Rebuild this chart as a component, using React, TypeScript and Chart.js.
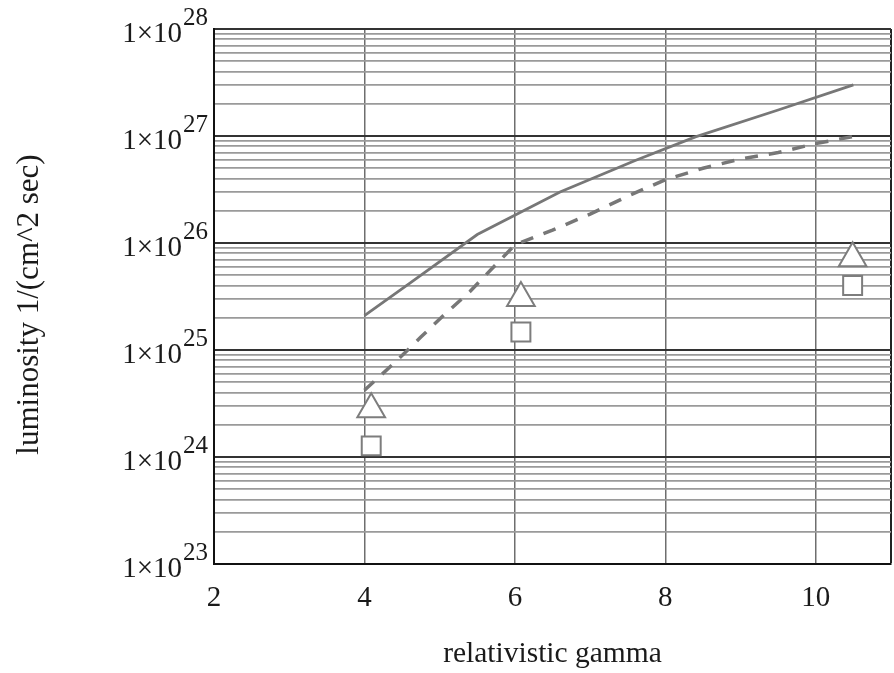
import React, { useEffect, useRef } from 'react';
import { Chart, registerables } from 'chart.js';

Chart.register(...registerables);

// Solid curve
const solidGamma = [4.0, 4.6, 5.5, 6.6, 7.6, 8.4, 9.5, 10.5];
const solidLum = [2.1e25, 4.2e25, 1.2e26, 3.0e26, 5.9e26, 9.8e26, 1.75e27, 3.0e27];

// Dashed curve
const dashedGamma = [4.0, 4.4, 4.75, 5.05, 5.4, 5.7, 6.0, 6.5, 7.0, 7.5, 8.0, 8.5, 9.0, 9.5, 10.0, 10.5];
const dashedLum = [4.2e24, 7.6e24, 1.32e25, 2.1e25, 3.5e25, 5.8e25, 9.6e25, 1.32e26, 1.86e26, 2.74e26, 3.9e26, 5.0e26, 6.1e26, 7.0e26, 8.5e26, 9.9e26];

// Markers
const triangleGamma = [4.09, 6.08, 10.49];
const triangleLum = [2.8e24, 3.06e25, 7.2e25];
const squareGamma = [4.09, 6.08, 10.49];
const squareLum = [1.27e24, 1.47e25, 4.0e25];

// Axes
const xMin = 2;
const xMax = 11;
const xStep = 2;
const yDecades = [23, 24, 25, 26, 27, 28];

const xTitle = 'relativistic gamma';
const yTitle = 'luminosity 1/(cm^2 sec)';

const FONT = '"Liberation Serif", "Times New Roman", serif';

const pts = (xs: number[], ys: number[]) => xs.map((x, i) => ({ x, y: ys[i] }));
const isDecade = (v: number) => Math.abs(Math.log10(v) - Math.round(Math.log10(v))) < 1e-6;

export default function App() {
  const ref = useRef<HTMLCanvasElement>(null);

  useEffect(() => {
    if (!ref.current) return;

    const yLabelPlugin = {
      id: 'yLabelPlugin',
      afterDraw(chart: any) {
        const ctx = chart.ctx;
        const ys = chart.scales.y;
        const right = ys.right - 6;
        ctx.save();
        ctx.fillStyle = '#1a1a1a';
        ctx.textAlign = 'right';
        ctx.textBaseline = 'alphabetic';
        yDecades.forEach((e) => {
          const py = ys.getPixelForValue(Number('1e' + e));
          const expStr = String(e);
          ctx.font = `25px ${FONT}`;
          const ew = ctx.measureText(expStr).width;
          ctx.fillText(expStr, right, py - 4);
          ctx.font = `29px ${FONT}`;
          ctx.fillText('1\u00d710', right - ew - 1, py + 13);
        });
        const cy = (chart.chartArea.top + chart.chartArea.bottom) / 2 + 8;
        ctx.translate(30, cy);
        ctx.rotate(-Math.PI / 2);
        ctx.font = `31px ${FONT}`;
        ctx.textAlign = 'center';
        ctx.textBaseline = 'middle';
        ctx.fillText(yTitle, 0, 0);
        ctx.restore();
      },
    };

    const chart = new Chart(ref.current, {
      type: 'line',
      data: {
        datasets: [
          {
            label: 'triangles',
            data: pts(triangleGamma, triangleLum),
            showLine: false,
            pointStyle: 'triangle',
            pointRadius: 16,
            pointBorderWidth: 2,
            pointBorderColor: '#7d7d7d',
            pointBackgroundColor: '#ffffff',
            order: 0,
          },
          {
            label: 'squares',
            data: pts(squareGamma, squareLum),
            showLine: false,
            pointStyle: 'rect',
            pointRadius: 13.4,
            pointBorderWidth: 2,
            pointBorderColor: '#7d7d7d',
            pointBackgroundColor: '#ffffff',
            order: 0,
          },
          {
            label: 'solid',
            data: pts(solidGamma, solidLum),
            borderColor: '#777777',
            borderWidth: 2.8,
            pointRadius: 0,
            tension: 0,
            fill: false,
            order: 1,
          },
          {
            label: 'dashed',
            data: pts(dashedGamma, dashedLum),
            borderColor: '#777777',
            borderWidth: 3.5,
            borderDash: [13, 11],
            pointRadius: 0,
            tension: 0,
            fill: false,
            order: 1,
          },
        ],
      },
      options: {
        responsive: false,
        animation: false,
        events: [],
        layout: { autoPadding: false, padding: { top: 29, right: 3, left: 0, bottom: 0 } },
        plugins: {
          legend: { display: false },
          tooltip: { enabled: false },
        },
        scales: {
          x: {
            type: 'linear',
            min: xMin,
            max: xMax,
            afterFit: (s: any) => {
              s.height = 109;
              s.paddingLeft = 0;
              s.paddingRight = 0;
            },
            ticks: {
              stepSize: xStep,
              autoSkip: false,
              maxRotation: 0,
              padding: 17,
              color: '#1a1a1a',
              font: { family: FONT, size: 29 },
              callback: (v: any) => (Number(v) % 2 === 0 ? String(v) : ''),
            },
            grid: {
              drawTicks: false,
              color: (c: any) => (c.tick && c.tick.value === xMax ? '#222' : '#6e6e6e'),
              lineWidth: (c: any) => (c.tick && c.tick.value === xMax ? 2 : 1.5),
            },
            border: { display: true, color: '#111', width: 2 },
            title: {
              display: true,
              text: xTitle,
              color: '#1a1a1a',
              font: { family: FONT, size: 29.5 },
              padding: { top: 0, bottom: 1 },
            },
          },
          y: {
            type: 'logarithmic',
            min: 1e23,
            max: 1e28,
            afterFit: (s: any) => {
              s.width = 214;
            },
            afterBuildTicks: (s: any) => {
              const t: { value: number }[] = [];
              for (let e = yDecades[0]; e < yDecades[yDecades.length - 1]; e++) {
                for (let m = 1; m <= 9; m++) t.push({ value: Number(m + 'e' + e) });
              }
              t.push({ value: Number('1e' + yDecades[yDecades.length - 1]) });
              s.ticks = t;
            },
            ticks: { display: false },
            grid: {
              drawTicks: false,
              color: (c: any) => (c.tick && isDecade(c.tick.value) ? '#333333' : '#9a9a9a'),
              lineWidth: (c: any) => (c.tick && isDecade(c.tick.value) ? 2 : 1.8),
            },
            border: { display: true, color: '#111', width: 2 },
          },
        },
      },
      plugins: [yLabelPlugin],
    } as any);

    return () => chart.destroy();
  }, []);

  return (
    <div style={{ position: 'fixed', left: 0, top: 0, width: 894, height: 673, background: '#fff' }}>
      <canvas ref={ref} width={894} height={673} style={{ display: 'block' }} />
    </div>
  );
}
